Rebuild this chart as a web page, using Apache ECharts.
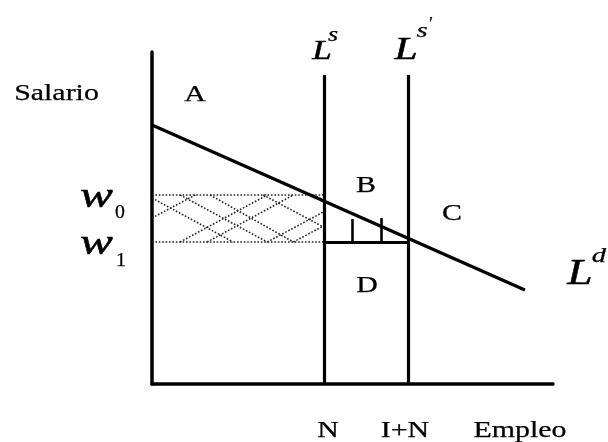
<!DOCTYPE html>
<html><head><meta charset="utf-8">
<script src="https://cdn.jsdelivr.net/npm/echarts@6/dist/echarts.min.js"></script>
<style>html,body{margin:0;padding:0;background:#fff}#c{width:608px;height:442px}</style>
</head><body><div id="c"></div>
<script>
// ---- data (diagram units) ----
const demandLine = [[0, 64.75], [93, 23.5]];
const supplyN = 43;
const supplyIN = 64;
const supplyTop = 77.25;
const w0 = 47.25;
const w1 = 35.5;
const tickX = [50, 57.25];
const tickTop = [41.25, 41.5];
const hatchDown = [
  [[0, 46.5], [20.25, 35.5]],
  [[7, 47.25], [28.75, 35.5]],
  [[14.5, 47.25], [35.25, 35.5]],
  [[27.75, 47.25], [42.75, 39.25]],
  [[40.25, 47.25], [42.75, 46]]
];
const hatchUp = [
  [[0, 41.5], [10.75, 47.25]],
  [[7, 35.5], [28.75, 47.25]],
  [[13.75, 35.5], [35.25, 47.25]],
  [[28.75, 35.5], [42.75, 43]],
  [[35.25, 35.5], [42.75, 39.5]]
];

const solid = (w) => ({color: '#000', width: w, type: 'solid', opacity: 1});
const dotted = {color: '#222', width: 1.6, type: [1.6, 1.8], opacity: 1};

const solidSegs = [
  {coords: demandLine, lineStyle: solid(3.2)},
  {coords: [[supplyN, 0], [supplyN, supplyTop]], lineStyle: solid(3.2)},
  {coords: [[supplyIN, 0], [supplyIN, supplyTop]], lineStyle: solid(3.2)},
  {coords: [[supplyN, w1], [supplyIN, w1]], lineStyle: solid(3.2)}
].concat(tickX.map((x, i) => ({coords: [[x, w1], [x, tickTop[i]]], lineStyle: solid(2.6)})));

const dotSegs = [
  {coords: [[0, w0], [supplyN, w0]]},
  {coords: [[0, w1], [supplyN, w1]]}
].concat(hatchDown.map(c => ({coords: c})), hatchUp.map(c => ({coords: c})));

const serif = '"Liberation Serif", "Times New Roman", serif';
function txt(text, x, y, size, opts) {
  opts = opts || {};
  return {
    type: 'text', x: x, y: y, scaleX: opts.sx || 1.3, z: 100,
    style: {
      text: text, fill: '#000', stroke: '#000', lineWidth: opts.lw == null ? 0.25 : opts.lw,
      align: 'center', verticalAlign: 'middle',
      font: (opts.italic ? 'italic ' : '') + size + 'px ' + serif
    }
  };
}

const chart = echarts.init(document.getElementById('c'));
chart.setOption({
  animation: false,
  backgroundColor: '#fff',
  grid: {left: 152, top: 52, width: 401, height: 332, containLabel: false},
  xAxis: {
    type: 'value', min: 0, max: 100,
    axisLine: {show: true, onZero: false, lineStyle: {color: '#000', width: 3.5}},
    axisTick: {show: false}, axisLabel: {show: false}, splitLine: {show: false}
  },
  yAxis: {
    type: 'value', min: 0, max: 83,
    axisLine: {show: true, onZero: false, lineStyle: {color: '#000', width: 3.5}},
    axisTick: {show: false}, axisLabel: {show: false}, splitLine: {show: false}
  },
  series: [
    {type: 'lines', coordinateSystem: 'cartesian2d', lineStyle: dotted, data: dotSegs, z: 2, silent: true},
    {type: 'lines', coordinateSystem: 'cartesian2d', lineStyle: solid(3), data: solidSegs, z: 3, silent: true}
  ],
  graphic: [
    txt('Salario', 56.5, 94, 23),
    txt('A', 195, 95, 23),
    txt('B', 366, 186, 23),
    txt('C', 452, 214, 23),
    txt('D', 367, 286, 23),
    txt('N', 328, 431, 23),
    txt('I+N', 405, 431, 23),
    txt('Empleo', 520, 431, 23),
    txt('w', 96.5, 198, 36, {italic: true, sx: 1.37, lw: 0.5}),
    txt('0', 120, 213, 18, {sx: 1.1}),
    txt('w', 96.5, 245, 36, {italic: true, sx: 1.37, lw: 0.5}),
    txt('1', 121, 261, 18, {sx: 1.1}),
    txt('L', 322, 52, 27, {italic: true, lw: 0.5}),
    txt('s', 333, 36, 20, {italic: true}),
    txt('L', 406, 50.5, 32, {italic: true, lw: 0.5}),
    txt('s', 422, 31, 22, {italic: true}),
    txt('\u2032', 430, 25, 18, {italic: true, sx: 1}),
    txt('L', 580, 275, 35, {italic: true, lw: 0.5}),
    txt('d', 599, 256, 22, {italic: true})
  ]
});
</script></body></html>
